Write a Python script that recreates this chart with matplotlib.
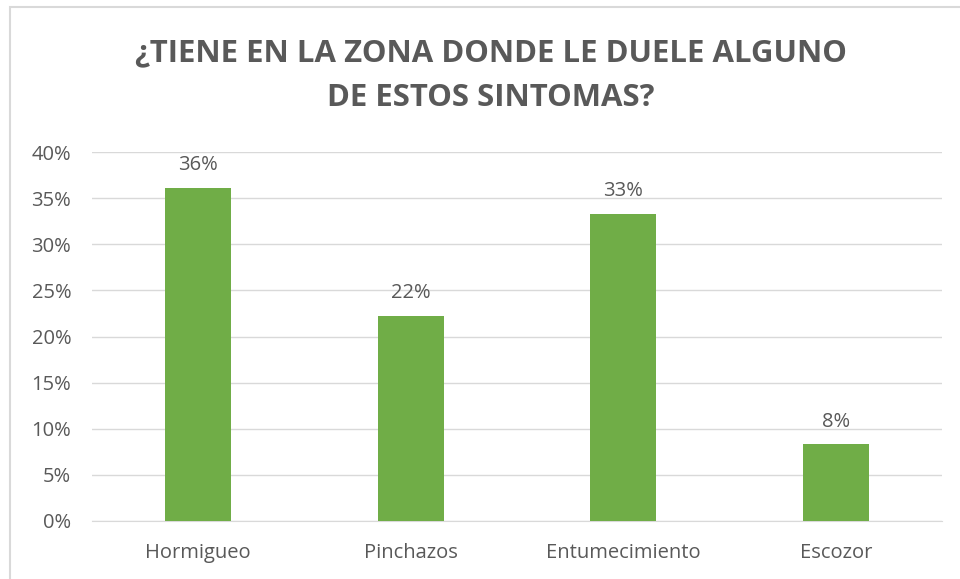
import matplotlib
matplotlib.use("Agg")
import matplotlib.pyplot as plt
from matplotlib.patches import Rectangle
from matplotlib.ticker import PercentFormatter

categories = ["Hormigueo", "Pinchazos", "Entumecimiento", "Escozor"]
values = [0.361, 0.222, 0.333, 0.083]
labels = ["36%", "22%", "33%", "8%"]
yticks = [0, 0.05, 0.10, 0.15, 0.20, 0.25, 0.30, 0.35, 0.40]

plt.rcParams['font.family'] = ['Open Sans', 'DejaVu Sans']
gray = "#595959"

fig = plt.figure(figsize=(9.6, 5.79), dpi=100)
fig.patches.append(Rectangle((10/960, -0.1), 1.2, 1 - 7/579 + 0.1, transform=fig.transFigure,
                             fill=False, edgecolor="#d9d9d9", linewidth=1.5))
ax = fig.add_axes([92/960, 1 - 521/579, 850/960, (521 - 152)/579])
x = range(len(categories))
ax.bar(x, values, width=0.31, color="#70AD47", zorder=3)
for xi, v, lab in zip(x, values, labels):
    ax.text(xi, v + 0.014, lab, ha="center", va="bottom", fontsize=14.5, color=gray)
ax.set_xlim(-0.5, 3.5)
ax.set_ylim(0, 0.40)
ax.set_yticks(yticks)
ax.yaxis.set_major_formatter(PercentFormatter(1.0, decimals=0))
ax.set_xticks(list(x))
ax.set_xticklabels(categories)
ax.grid(axis="y", color="#d9d9d9", linewidth=1, zorder=0)
for s in ["top", "right", "left"]:
    ax.spines[s].set_visible(False)
ax.spines["bottom"].set_color("#d9d9d9")
ax.tick_params(axis="both", length=0, labelsize=14.5, colors=gray)
ax.tick_params(axis="y", pad=15)
ax.tick_params(axis="x", pad=16)
fig.text(491/960, 1 - 76/579, "¿TIENE EN LA ZONA DONDE LE DUELE ALGUNO\nDE ESTOS SINTOMAS?",
         ha="center", va="center", fontsize=22.4, fontweight="bold", color=gray, linespacing=1.65)
fig.savefig("out.png", dpi=100)
